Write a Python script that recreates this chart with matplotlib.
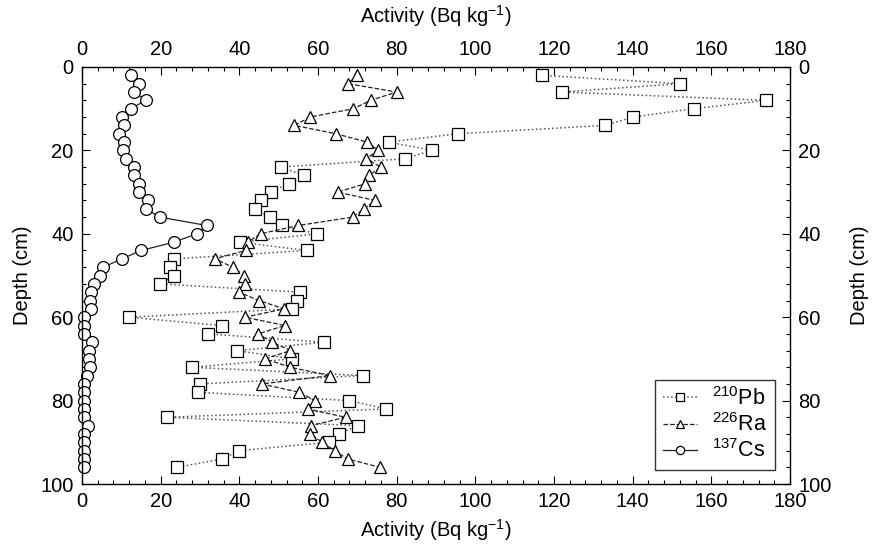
import matplotlib.pyplot as plt
from matplotlib.ticker import MultipleLocator

plt.rcParams['font.family'] = ['Liberation Sans', 'DejaVu Sans']
plt.rcParams['mathtext.fontset'] = 'custom'
plt.rcParams['mathtext.rm'] = 'Liberation Sans'

# depth of each slice (cm)
depth = [2, 4, 6, 8, 10, 12, 14, 16, 18, 20, 22, 24, 26, 28, 30, 32,
         34, 36, 38, 40, 42, 44, 46, 48, 50, 52, 54, 56, 58, 60, 62, 64,
         66, 68, 70, 72, 74, 76, 78, 80, 82, 84, 86, 88, 90, 92, 94, 96]

# activities (Bq/kg)
pb210 = [117, 152, 122, 174, 155.5, 140, 133, 95.5, 78, 89, 82, 50.5, 56.5, 52.5, 48, 45.5,
         44, 47.8, 50.8, 59.7, 40.2, 57.1, 23.5, 22.4, 23.5, 19.8, 55.4, 54.6, 53.5, 12, 35.5, 32,
         61.6, 39.5, 53.4, 28, 71.4, 30, 29.4, 68, 77.3, 21.7, 70.1, 65.3, 62.7, 40, 35.6, 24.2]
ra226 = [70, 67.6, 80, 73.4, 69, 58, 54, 64.5, 72.5, 75.3, 72.2, 76, 73, 72, 65, 74.5,
         71.8, 68.8, 55, 45.4, 42.1, 41.6, 33.8, 38.3, 41.3, 41.4, 39.9, 45, 51.4, 41.4, 51.6, 44.7,
         48.4, 53, 46.6, 52.9, 63, 45.7, 55.2, 59.2, 57.4, 67, 58.2, 58, 61.1, 64.2, 67.5, 75.8]
cs137 = [12.4, 14.5, 13.3, 16.2, 12.4, 10.2, 10.8, 9.4, 10.6, 10.4, 11.2, 13.3, 13.3, 14.5, 14.5, 16.8,
         16.2, 19.8, 31.7, 29.2, 23.4, 15, 10.2, 5.4, 4.5, 3.1, 2.2, 2, 2.2, 0.5, 0.5, 0.4,
         2.5, 1.7, 1.7, 2, 1.3, 0.5, 0.5, 0.5, 0.6, 0.5, 1.5, 0.6, 0.6, 0.6, 0.6, 0.6]

fig = plt.figure(figsize=(8.76, 5.54), dpi=100)
ax = fig.add_axes([82/876, 1-484/554, 708/876, 417/554])

ms = 8.5
ax.plot(pb210, depth, ls=':', lw=1.1, color='#555555', marker='s', ms=ms,
        mfc='white', mec='black', mew=0.9, label='$^{210}$Pb')
ax.plot(ra226, depth, ls='--', lw=0.9, color='#222222', marker='^', ms=ms - 0.5,
        mfc='white', mec='black', mew=0.9, label='$^{226}$Ra')
ax.plot(cs137, depth, ls='-', lw=0.9, color='#222222', marker='o', ms=ms,
        mfc='white', mec='black', mew=0.9, label='$^{137}$Cs', clip_on=False)

ax.set_xlim(0, 180)
ax.set_ylim(100, 0)
ax.xaxis.set_major_locator(MultipleLocator(20))
ax.xaxis.set_minor_locator(MultipleLocator(4))
ax.yaxis.set_major_locator(MultipleLocator(20))
ax.yaxis.set_minor_locator(MultipleLocator(4))
ax.tick_params(which='both', direction='in', top=True, right=True,
               labeltop=True, labelright=True, labelsize=14.5, width=0.8)
ax.tick_params(which='major', length=6, pad=6)
ax.tick_params(which='minor', length=3)
for sp in ax.spines.values():
    sp.set_linewidth(1.0)

ax.set_xlabel('Activity (Bq kg$^{-1}$)', fontsize=14.5, labelpad=4)
ax.set_ylabel('Depth (cm)', fontsize=14.5, labelpad=6)
sec = ax.secondary_xaxis('top')
sec.set_xticks([])
sec.set_xlabel('Activity (Bq kg$^{-1}$)', fontsize=14.5, labelpad=32)
sec.spines['top'].set_visible(False)
ry = ax.secondary_yaxis('right')
ry.set_yticks([])
ry.set_ylabel('Depth (cm)', fontsize=14.5, labelpad=43)
ry.spines['right'].set_visible(False)

leg = ax.legend(loc='lower right', bbox_to_anchor=(0.979, 0.034), borderaxespad=0,
                fontsize=15.5, frameon=True, fancybox=False, handlelength=1.6,
                handletextpad=0.7, labelspacing=0.15, markerscale=0.7,
                borderpad=0.35)
leg.get_frame().set_edgecolor('black')
leg.get_frame().set_linewidth(1.0)

fig.savefig('out.png', dpi=100)
